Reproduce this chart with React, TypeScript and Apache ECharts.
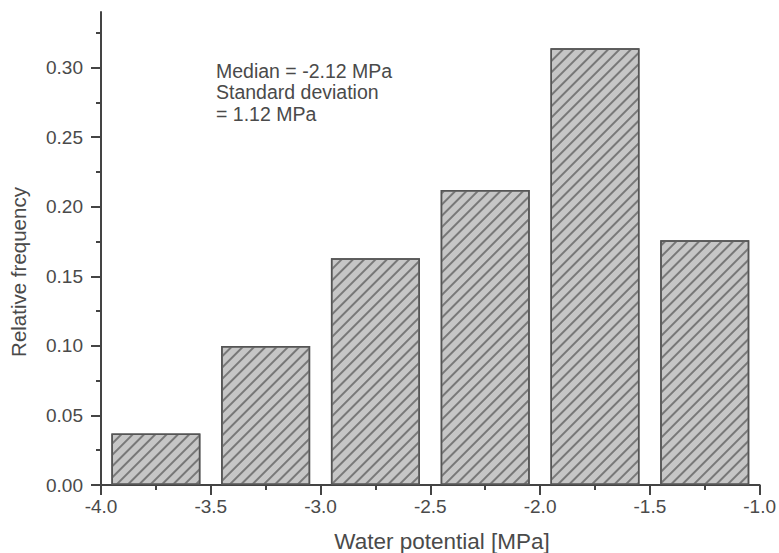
import React, { useEffect, useRef } from "react";
import * as echarts from "echarts";

const binCenters = [-3.75, -3.25, -2.75, -2.25, -1.75, -1.25];
const frequencies = [0.037, 0.1, 0.163, 0.212, 0.314, 0.176];
const yMajorTicks = [0, 0.05, 0.1, 0.15, 0.2, 0.25, 0.3];
const yMinorTicks = [0.025, 0.075, 0.125, 0.175, 0.225, 0.275, 0.325];
const annotationLines = ["Median = -2.12 MPa", "Standard deviation", "= 1.12 MPa"];
const xTitle = "Water potential [MPa]";
const yTitle = "Relative frequency";

const FONT = "Liberation Sans, Arial, Helvetica, sans-serif";
const TEXT = "#4a4a4a";
const AXIS = "#444";

export default function App() {
  const ref = useRef<HTMLDivElement>(null);
  useEffect(() => {
    if (!ref.current) return;
    const chart = echarts.init(ref.current, undefined, { renderer: "svg" });
    const option: any = {
      animation: false,
      backgroundColor: "#fff",
      grid: { left: 101, right: 19, top: 12, bottom: 68 },
      xAxis: {
        type: "value",
        min: -4,
        max: -1,
        interval: 0.5,
        axisLine: { show: true, lineStyle: { color: AXIS, width: 2 } },
        axisTick: { show: true, length: 10, lineStyle: { color: AXIS, width: 2 } },
        minorTick: { show: true, splitNumber: 2, length: 5, lineStyle: { color: AXIS, width: 2 } },
        axisLabel: {
          color: TEXT,
          fontFamily: FONT,
          fontSize: 19,
          margin: 12,
          formatter: (v: number) => v.toFixed(1),
        },
        splitLine: { show: false },
      },
      yAxis: [
        {
          type: "value",
          min: 0,
          max: 0.34,
          position: "left",
          axisLine: { show: true, lineStyle: { color: AXIS, width: 2 } },
          axisTick: {
            show: true,
            length: 10,
            customValues: yMajorTicks,
            lineStyle: { color: AXIS, width: 2 },
          },
          axisLabel: {
            color: TEXT,
            fontFamily: FONT,
            fontSize: 19,
            margin: 18,
            customValues: yMajorTicks,
            formatter: (v: number) => v.toFixed(2),
          },
          splitLine: { show: false },
        },
        {
          type: "value",
          min: 0,
          max: 0.34,
          position: "left",
          offset: 0,
          axisLine: { show: false },
          axisTick: {
            show: true,
            length: 5,
            customValues: yMinorTicks,
            lineStyle: { color: AXIS, width: 2 },
          },
          axisLabel: { show: false },
          splitLine: { show: false },
        },
      ],
      graphic: [
        {
          type: "text",
          left: 216,
          top: 60,
          style: {
            text: annotationLines.join("\n"),
            fill: TEXT,
            font: `19.5px ${FONT}`,
            lineHeight: 21.5,
          },
        },
        {
          type: "text",
          x: 18.5,
          y: 272,
          rotation: Math.PI / 2,
          style: {
            text: yTitle,
            fill: TEXT,
            font: `20.5px ${FONT}`,
            align: "center",
            verticalAlign: "middle",
          },
        },
        {
          type: "text",
          x: 442,
          y: 541,
          style: {
            text: xTitle,
            fill: TEXT,
            font: `22.5px ${FONT}`,
            align: "center",
            verticalAlign: "middle",
          },
        },
      ],
      series: [
        {
          type: "bar",
          yAxisIndex: 0,
          barWidth: 89,
          data: binCenters.map((c, i) => [c, frequencies[i]]),
          itemStyle: {
            color: "#c6c6c6",
            borderColor: "#555",
            borderWidth: 1.5,
            decal: {
              symbol: "rect",
              symbolSize: 1,
              dashArrayX: [1, 0],
              dashArrayY: [1.3, 5.2],
              rotation: -Math.PI / 4,
              color: "#787878",
            },
          },
        },
      ],
    };
    chart.setOption(option);
    return () => chart.dispose();
  }, []);
  return <div ref={ref} style={{ width: 779, height: 553, position: "absolute", left: 0, top: 0 }} />;
}
